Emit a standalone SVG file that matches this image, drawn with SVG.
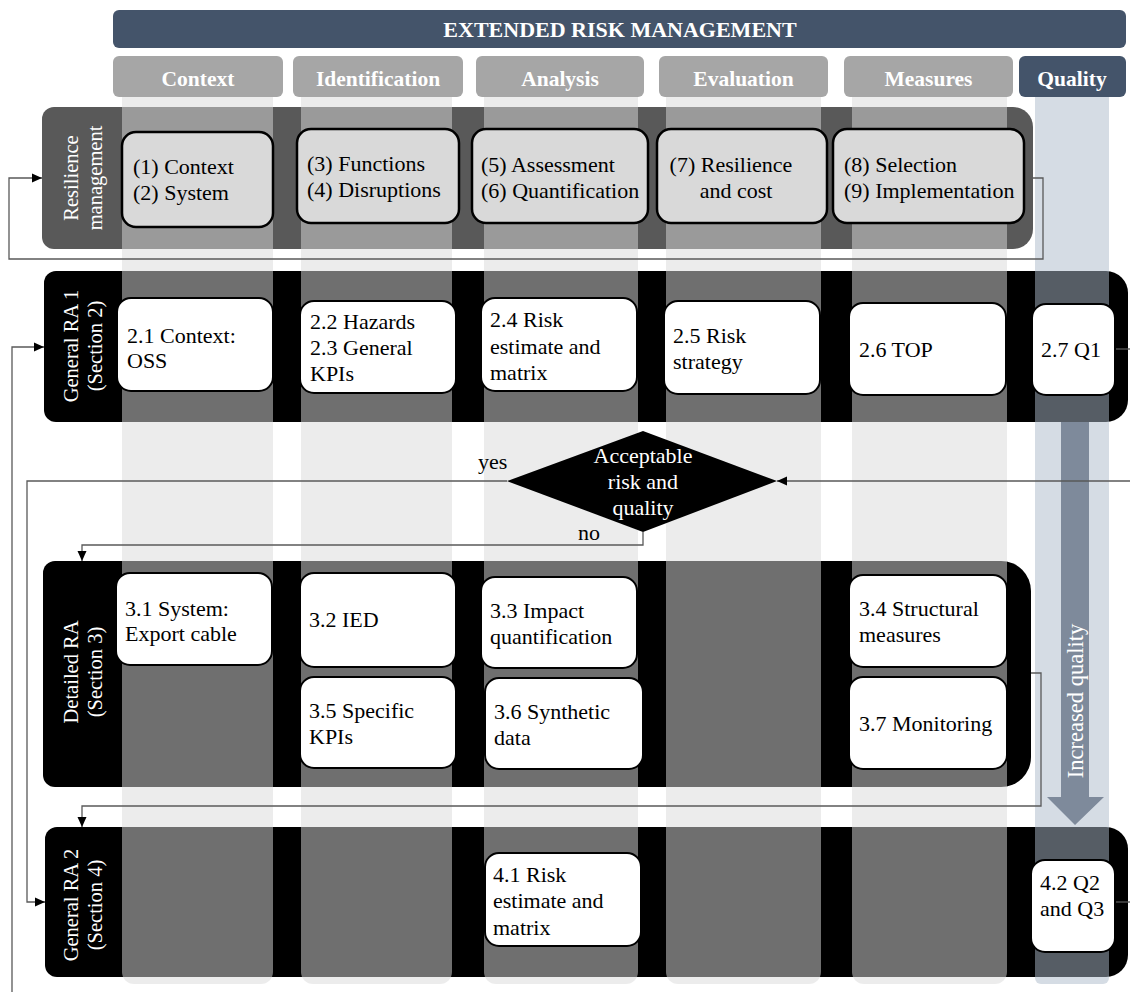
<svg xmlns="http://www.w3.org/2000/svg" width="1130" height="992" viewBox="0 0 1130 992">
<defs>
<style>
.hdr{fill:#44546a}
.ch{fill:#a6a6a6}
.col{fill:#d9d9d9;opacity:.51}
.qcol{fill:#acb9ca;opacity:.5}
.rn{fill:#d9d9d9;stroke:#000;stroke-width:2.5}
.wn{fill:#fff;stroke:#000;stroke-width:2}
.t{font-family:"Liberation Serif","Times New Roman",serif;font-size:22px;fill:#000}
.w{fill:#fff}
.b{font-weight:bold;font-size:21.5px}
.m{text-anchor:middle}
.lab{font-size:20.5px}
.conn{fill:none;stroke:#595959;stroke-width:1.3}
</style>
<marker id="ah" markerWidth="10" markerHeight="10" refX="10" refY="5" orient="auto" markerUnits="userSpaceOnUse">
<path d="M0,0.5 L10,5 L0,9.5 Z" fill="#000"/>
</marker>
</defs>
<rect width="1130" height="992" fill="#fff"/>

<g id="header">
<rect class="hdr" x="113" y="10" width="1013" height="38" rx="6"/>
<text class="t w b m" x="620" y="37" style="font-size:22px">EXTENDED RISK MANAGEMENT</text>
</g>
<g id="column-headers">
<rect class="ch" x="113" y="56" width="170" height="41" rx="6"/>
<rect class="ch" x="293" y="56" width="170" height="41" rx="6"/>
<rect class="ch" x="476" y="56" width="168" height="41" rx="6"/>
<rect class="ch" x="659" y="56" width="169" height="41" rx="6"/>
<rect class="ch" x="844" y="56" width="169" height="41" rx="6"/>
<rect class="hdr" x="1019" y="56" width="107" height="41" rx="6"/>
<text class="t w b m" x="198" y="86">Context</text>
<text class="t w b m" x="378" y="86">Identification</text>
<text class="t w b m" x="560" y="86">Analysis</text>
<text class="t w b m" x="743.5" y="86">Evaluation</text>
<text class="t w b m" x="928.5" y="86">Measures</text>
<text class="t w b m" x="1072" y="86">Quality</text>
</g>

<g id="rows">
<path id="row-resilience" fill="#595959" d="M54,107 H1013 A20,20 0 0 1 1033,127 V229 A20,20 0 0 1 1013,249 H54 A12,12 0 0 1 42,237 V119 A12,12 0 0 1 54,107 Z"/>
<path id="row-ra1" fill="#000" d="M56,271 H1106 A22,22 0 0 1 1128,293 V400 A22,22 0 0 1 1106,422 H56 A12,12 0 0 1 44,410 V283 A12,12 0 0 1 56,271 Z"/>
<path id="row-detailed" fill="#000" d="M55,561 H1001 A30,30 0 0 1 1031,591 V757 A30,30 0 0 1 1001,787 H55 A12,12 0 0 1 43,775 V573 A12,12 0 0 1 55,561 Z"/>
<path id="row-ra2" fill="#000" d="M57,827 H1106 A22,22 0 0 1 1128,849 V955 A22,22 0 0 1 1106,977 H57 A12,12 0 0 1 45,965 V839 A12,12 0 0 1 57,827 Z"/>
</g>

<g id="columns">
<path class="col" d="M122,97 H273 V972 A12,12 0 0 1 261,984 H134 A12,12 0 0 1 122,972 Z"/>
<path class="col" d="M301,97 H452 V972 A12,12 0 0 1 440,984 H313 A12,12 0 0 1 301,972 Z"/>
<path class="col" d="M484,97 H638 V972 A12,12 0 0 1 626,984 H496 A12,12 0 0 1 484,972 Z"/>
<path class="col" d="M666,97 H821 V972 A12,12 0 0 1 809,984 H678 A12,12 0 0 1 666,972 Z"/>
<path class="col" d="M852,97 H1007 V972 A12,12 0 0 1 995,984 H864 A12,12 0 0 1 852,972 Z"/>
<path class="qcol" d="M1035,97 H1109 V978 A6,6 0 0 1 1103,984 H1041 A6,6 0 0 1 1035,978 Z"/>
</g>

<g id="quality-arrow">
<polygon fill="#7e8a9b" points="1061,422 1089,422 1089,797 1104,797 1075,825 1047,797 1061,797"/>
<text class="t w m" transform="translate(1083,701) rotate(-90)" style="font-size:22.5px">Increased quality</text>
</g>

<g id="connectors">
<polyline class="conn" points="1033,178 1043,178 1043,259 9,259 9,178 42,178" marker-end="url(#ah)"/>
<polyline class="conn" points="12,992 12,347 44,347" marker-end="url(#ah)"/>
<polyline class="conn" points="507,481 27,481 27,902 45,902" marker-end="url(#ah)"/>
<polyline class="conn" points="1130,481 777,481" marker-end="url(#ah)"/>
<polyline class="conn" points="643,532 643,545 82,545 82,561" marker-end="url(#ah)"/>
<polyline class="conn" points="1031,673 1041,673 1041,806 82,806 82,827" marker-end="url(#ah)"/>
<line class="conn" x1="1115" y1="349" x2="1130" y2="349"/>
<line class="conn" x1="1115" y1="902" x2="1130" y2="902"/>
<text class="t" x="478" y="469">yes</text>
<text class="t" x="578" y="540">no</text>
</g>

<g id="row-labels">
<text class="t w m lab" transform="translate(78,178) rotate(-90)"><tspan x="0" dy="0">Resilience</tspan><tspan x="0" dy="24">management</tspan></text>
<text class="t w m lab" transform="translate(78,346) rotate(-90)"><tspan x="0" dy="0">General RA 1</tspan><tspan x="0" dy="24">(Section 2)</tspan></text>
<text class="t w m lab" transform="translate(78,672) rotate(-90)"><tspan x="0" dy="0">Detailed RA</tspan><tspan x="0" dy="24">(Section 3)</tspan></text>
<text class="t w m lab" transform="translate(78,905) rotate(-90)"><tspan x="0" dy="0">General RA 2</tspan><tspan x="0" dy="24">(Section 4)</tspan></text>
</g>

<g id="node-r1"><rect class="rn" x="122" y="132" width="151" height="95" rx="14"/>
<text class="t"><tspan x="133" y="174">(1) Context</tspan><tspan x="133" y="200">(2) System</tspan></text></g>
<g id="node-r2"><rect class="rn" x="297" y="129" width="162" height="94" rx="14"/>
<text class="t"><tspan x="307" y="171">(3) Functions</tspan><tspan x="307" y="197">(4) Disruptions</tspan></text></g>
<g id="node-r3"><rect class="rn" x="472" y="129" width="176" height="94" rx="14"/>
<text class="t"><tspan x="481" y="172">(5) Assessment</tspan><tspan x="481" y="198">(6) Quantification</tspan></text></g>
<g id="node-r4"><rect class="rn" x="657" y="129" width="170" height="94" rx="14"/>
<text class="t m"><tspan x="731" y="172">(7) Resilience</tspan><tspan x="736" y="198">and cost</tspan></text></g>
<g id="node-r5"><rect class="rn" x="833" y="129" width="191" height="94" rx="14"/>
<text class="t"><tspan x="844" y="172">(8) Selection</tspan><tspan x="844" y="198">(9) Implementation</tspan></text></g>

<g id="node-2-1"><rect class="wn" x="117" y="298" width="156" height="93" rx="14"/>
<text class="t"><tspan x="127" y="343">2.1 Context:</tspan><tspan x="127" y="368">OSS</tspan></text></g>
<g id="node-2-2"><rect class="wn" x="300" y="301" width="156" height="92" rx="14"/>
<text class="t"><tspan x="310" y="329">2.2 Hazards</tspan><tspan x="310" y="355">2.3 General</tspan><tspan x="310" y="381">KPIs</tspan></text></g>
<g id="node-2-4"><rect class="wn" x="481" y="298" width="156" height="93" rx="14"/>
<text class="t"><tspan x="490" y="327">2.4 Risk</tspan><tspan x="490" y="354">estimate and</tspan><tspan x="490" y="380">matrix</tspan></text></g>
<g id="node-2-5"><rect class="wn" x="664" y="301" width="156" height="93" rx="14"/>
<text class="t"><tspan x="673" y="343">2.5 Risk</tspan><tspan x="673" y="369">strategy</tspan></text></g>
<g id="node-2-6"><rect class="wn" x="849" y="303" width="157" height="92" rx="14"/>
<text class="t" x="859" y="357">2.6 TOP</text></g>
<g id="node-2-7"><rect class="wn" x="1032" y="304" width="83" height="91" rx="14"/>
<text class="t" x="1041" y="357">2.7 Q1</text></g>

<g id="node-decision"><polygon fill="#000" points="643,431 777,481 643,532 507,481"/>
<text class="t w m"><tspan x="643" y="463">Acceptable</tspan><tspan x="643" y="489">risk and</tspan><tspan x="643" y="515">quality</tspan></text></g>

<g id="node-3-1"><rect class="wn" x="116" y="573" width="156" height="92" rx="14"/>
<text class="t"><tspan x="125" y="616">3.1 System:</tspan><tspan x="125" y="641">Export cable</tspan></text></g>
<g id="node-3-2"><rect class="wn" x="300" y="573" width="156" height="94" rx="14"/>
<text class="t" x="309" y="627">3.2 IED</text></g>
<g id="node-3-3"><rect class="wn" x="481" y="577" width="156" height="91" rx="14"/>
<text class="t"><tspan x="490" y="618">3.3 Impact</tspan><tspan x="490" y="644">quantification</tspan></text></g>
<g id="node-3-4"><rect class="wn" x="849" y="575" width="158" height="92" rx="14"/>
<text class="t"><tspan x="859" y="616">3.4 Structural</tspan><tspan x="859" y="642">measures</tspan></text></g>
<g id="node-3-5"><rect class="wn" x="300" y="677" width="156" height="91" rx="14"/>
<text class="t"><tspan x="309" y="718">3.5 Specific</tspan><tspan x="309" y="744">KPIs</tspan></text></g>
<g id="node-3-6"><rect class="wn" x="485" y="678" width="158" height="91" rx="14"/>
<text class="t"><tspan x="494" y="719">3.6 Synthetic</tspan><tspan x="494" y="745">data</tspan></text></g>
<g id="node-3-7"><rect class="wn" x="849" y="677" width="158" height="92" rx="14"/>
<text class="t" x="859" y="731">3.7 Monitoring</text></g>

<g id="node-4-1"><rect class="wn" x="485" y="853" width="156" height="93" rx="14"/>
<text class="t"><tspan x="493" y="882">4.1 Risk</tspan><tspan x="493" y="908">estimate and</tspan><tspan x="493" y="935">matrix</tspan></text></g>
<g id="node-4-2"><rect class="wn" x="1031" y="860" width="84" height="92" rx="14"/>
<text class="t"><tspan x="1040" y="890">4.2 Q2</tspan><tspan x="1040" y="916">and Q3</tspan></text></g>
</svg>
